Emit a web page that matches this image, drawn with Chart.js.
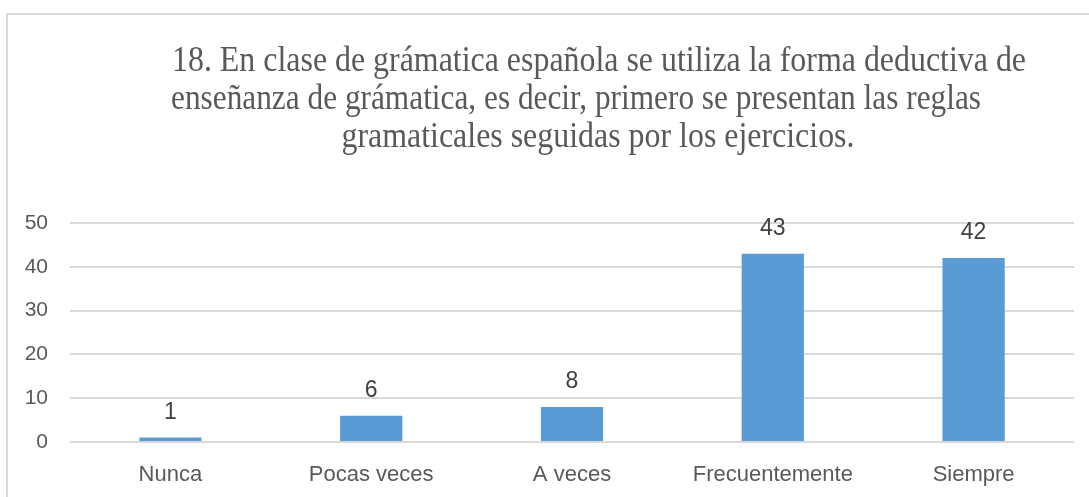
<!DOCTYPE html>
<html>
<head>
<meta charset="utf-8">
<script src="https://cdn.jsdelivr.net/npm/chart.js@4"></script>
<style>
  html, body { margin: 0; padding: 0; background: #fff; overflow: hidden; }
  #marco {
    position: absolute; left: 6px; top: 13px; width: 1200px; height: 600px;
    border: 2px solid #d9d9d9; box-sizing: border-box;
  }
  #grafico { position: absolute; left: 0; top: 0; }
</style>
</head>
<body>
<div id="marco"></div>
<canvas id="grafico" width="1089" height="497"></canvas>
<script>
const categorias = ['Nunca', 'Pocas veces', 'A veces', 'Frecuentemente', 'Siempre'];
const respuestas = [1, 6, 8, 43, 42];
const titulo = [
  '18. En clase de grámatica española se utiliza la forma deductiva de',
  'enseñanza de grámatica, es decir, primero se presentan las reglas',
  'gramaticales seguidas por los ejercicios.'
];

// título en serif, dibujado a mano para poder desplazarlo del centro
const tituloPlugin = {
  id: 'tituloPregunta',
  afterDraw(chart) {
    const ctx = chart.ctx;
    const centros = [599, 576, 598];
    const anchos = [854, 810, 513];
    titulo.forEach((linea, i) => {
      ctx.save();
      ctx.fillStyle = '#595959';
      ctx.font = '32px "Liberation Serif"';
      ctx.textAlign = 'center';
      ctx.textBaseline = 'alphabetic';
      ctx.translate(centros[i], 71 + i * 38);
      ctx.scale(1, 1.1);
      ctx.fillText(linea, 0, 0, anchos[i]);
      ctx.restore();
    });
  }
};

// valores encima de cada barra
const etiquetasPlugin = {
  id: 'etiquetasValor',
  afterDatasetsDraw(chart) {
    const ctx = chart.ctx;
    const meta = chart.getDatasetMeta(0);
    ctx.save();
    ctx.fillStyle = '#404040';
    ctx.font = '23px "Liberation Sans"';
    ctx.textAlign = 'center';
    ctx.textBaseline = 'alphabetic';
    meta.data.forEach((bar, i) => {
      ctx.fillText(String(respuestas[i]), bar.x, bar.y - 19);
    });
    ctx.restore();
  }
};

const ctx = document.getElementById('grafico').getContext('2d');
new Chart(ctx, {
  type: 'bar',
  data: {
    labels: categorias,
    datasets: [{
      data: respuestas,
      backgroundColor: '#5b9bd5',
      categoryPercentage: 1,
      barPercentage: 0.31
    }]
  },
  options: {
    responsive: false,
    animation: false,
    layout: { padding: { top: 223, right: 15, bottom: 0, left: 0 } },
    plugins: {
      legend: { display: false },
      tooltip: { enabled: false },
      title: { display: false }
    },
    scales: {
      y: {
        min: 0,
        max: 50,
        ticks: {
          stepSize: 10,
          padding: 22,
          color: '#595959',
          font: { family: '"Liberation Sans"', size: 21 }
        },
        grid: { color: '#d9d9d9', lineWidth: 2, drawTicks: false },
        border: { display: false },
        afterFit(scale) { scale.width = 70; }
      },
      x: {
        ticks: {
          padding: 20,
          color: '#595959',
          font: { family: '"Liberation Sans"', size: 22 }
        },
        grid: { display: false, drawTicks: false },
        border: { display: false },
        afterFit(scale) { scale.height = 55; }
      }
    }
  },
  plugins: [tituloPlugin, etiquetasPlugin]
});
</script>
</body>
</html>
